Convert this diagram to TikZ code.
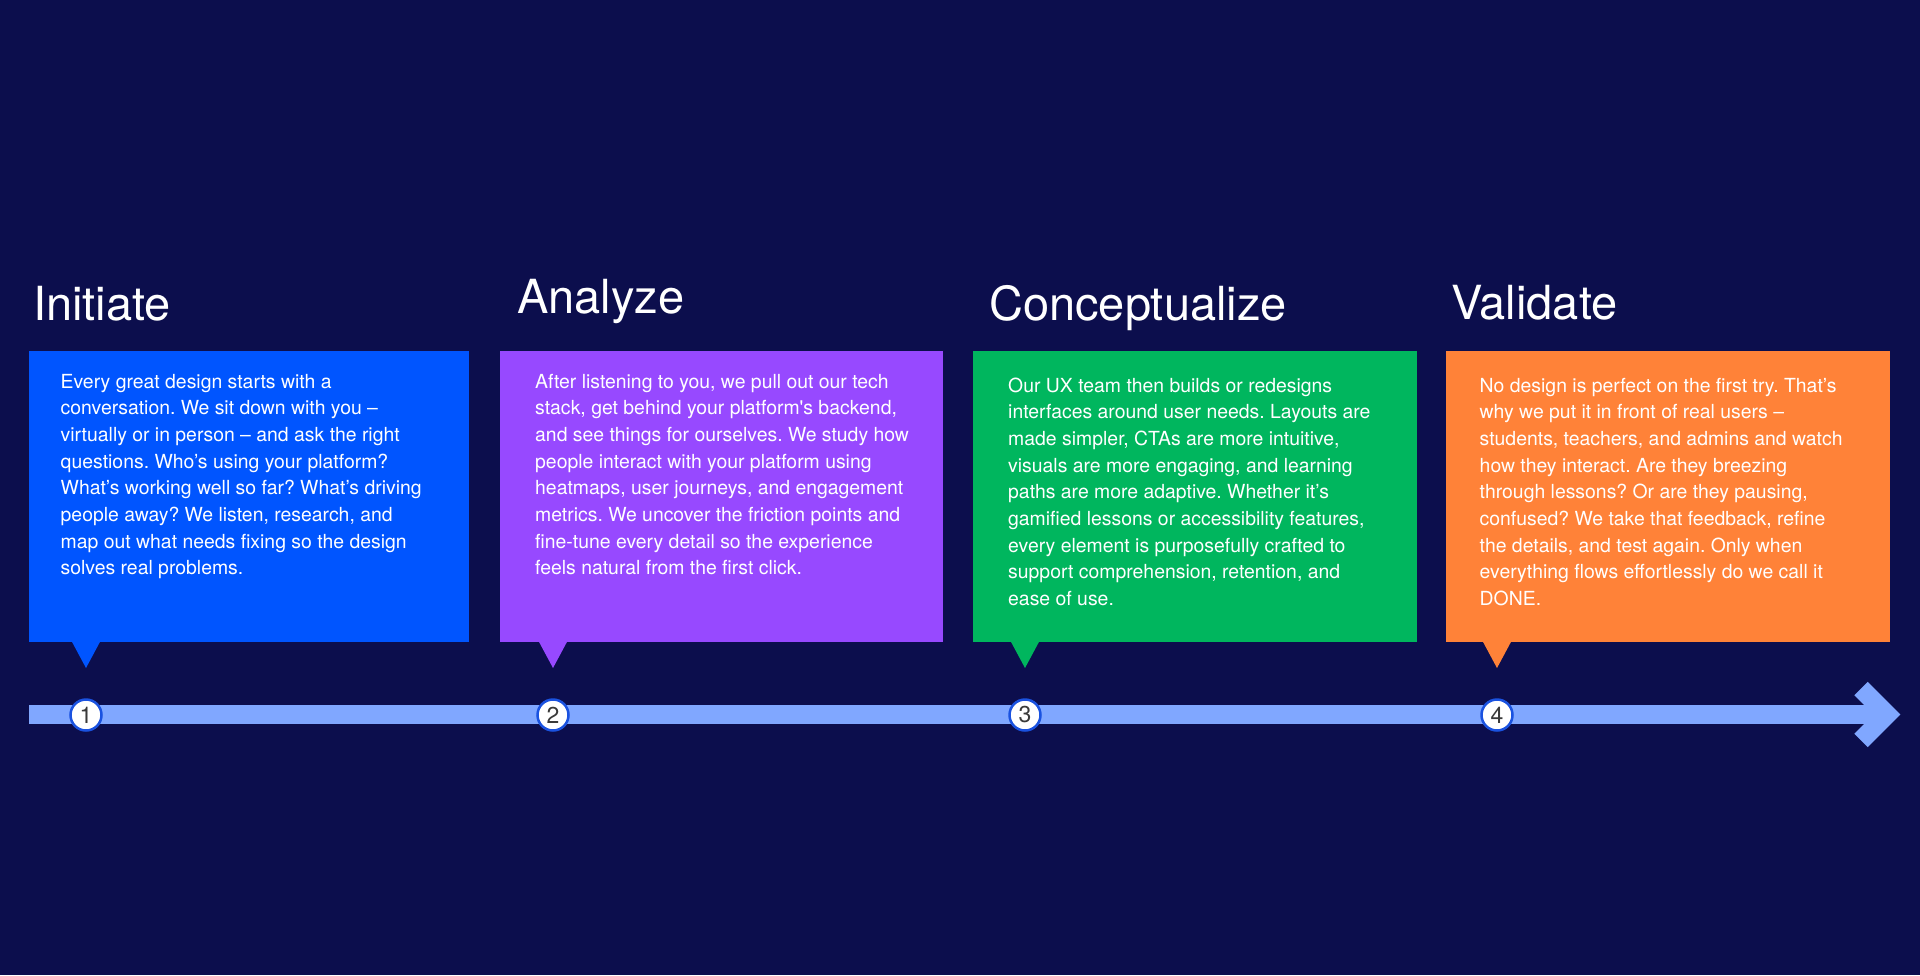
\documentclass[tikz,border=0pt]{standalone}
\usepackage{fontspec}
\newfontfamily\hfont{TeX Gyre Heros}
\definecolor{bgnavy}{HTML}{0C0E4D}
\definecolor{cblue}{HTML}{0055FF}
\definecolor{cpurple}{HTML}{9749FF}
\definecolor{cgreen}{HTML}{00B65E}
\definecolor{corange}{HTML}{FF8238}
\definecolor{cbar}{HTML}{80A7FF}
\definecolor{cring}{HTML}{1A52E0}
\definecolor{cdigit}{HTML}{3A3A3A}
\begin{document}
\frenchspacing
\begin{tikzpicture}[x=1pt,y=-1pt,
  card/.style={anchor=north west, inner sep=0, outer sep=0, minimum width=#1, minimum height=291},
  ttl/.style={anchor=base west, inner sep=0, text=white, font=\hfont\fontsize{47}{47}\selectfont},
  body/.style={anchor=base west, inner sep=0, text=white},
  num/.style={circle, minimum size=31, inner sep=0, fill=white, draw=cring, line width=2.5,
              text=cdigit, font=\hfont\fontsize{23}{23}\selectfont},
  bar/.style={cbar, line width=19}
]
\newcommand{\bodytext}[1]{\parbox[t]{420pt}{\raggedright\frenchspacing\hfont\fontsize{19.4}{26.7}\selectfont #1}}
\useasboundingbox (0,0) rectangle (1920,975);
\fill[bgnavy] (0,0) rectangle (1920,975);

% titles
\node[ttl] (ttl1) at (33,320) {Initiate};
\node[ttl] (ttl2) at (517,313) {Analyze};
\node[ttl] (ttl3) at (989,320) {Conceptualize};
\node[ttl] (ttl4) at (1451,319) {Validate};

% cards
\node[card=440, fill=cblue] (card1) at (29,351) {};
\node[card=443, fill=cpurple] (card2) at (500,351) {};
\node[card=444, fill=cgreen] (card3) at (973,351) {};
\node[card=444, fill=corange] (card4) at (1446,351) {};

% pointers
\fill[cblue]   (71,640) -- (101,640) -- (86,668) -- cycle;
\fill[cpurple] (538,640) -- (568,640) -- (553,668) -- cycle;
\fill[cgreen]  (1010,640) -- (1040,640) -- (1025,668) -- cycle;
\fill[corange] (1482,640) -- (1512,640) -- (1497,668) -- cycle;

% body texts
\node[body] (txt1) at (60.5,388) {\bodytext{Every great design starts with a\\
conversation. We sit down with you –\\
virtually or in person – and ask the right\\
questions. Who’s using your platform?\\
What’s working well so far? What’s driving\\
people away? We listen, research, and\\
map out what needs fixing so the design\\
solves real problems.}};

\node[body] (txt2) at (535,388) {\bodytext{After listening to you, we pull out our tech\\
stack, get behind your platform's backend,\\
and see things for ourselves. We study how\\
people interact with your platform using\\
heatmaps, user journeys, and engagement\\
metrics. We uncover the friction points and\\
fine-tune every detail so the experience\\
feels natural from the first click.}};

\node[body] (txt3) at (1008,392) {\bodytext{Our UX team then builds or redesigns\\
interfaces around user needs. Layouts are\\
made simpler, CTAs are more intuitive,\\
visuals are more engaging, and learning\\
paths are more adaptive. Whether it’s\\
gamified lessons or accessibility features,\\
every element is purposefully crafted to\\
support comprehension, retention, and\\
ease of use.}};

\node[body] (txt4) at (1479.5,392) {\bodytext{No design is perfect on the first try. That’s\\
why we put it in front of real users –\\
students, teachers, and admins and watch\\
how they interact. Are they breezing\\
through lessons? Or are they pausing,\\
confused? We take that feedback, refine\\
the details, and test again. Only when\\
everything flows effortlessly do we call it\\
DONE.}};

% timeline
\coordinate (tlstart) at (29,714.5);
\coordinate (tlend) at (1887,714.5);
\coordinate (armtop) at (1861,688.5);
\coordinate (armbot) at (1861,740.5);
\draw[bar, line cap=butt] (tlstart) -- (tlend);
\draw[bar, line cap=butt, line join=miter] (armtop) -- (tlend) -- (armbot);

% numbered markers
\node[num] (num1) at (86,715) {1};
\node[num] (num2) at (553,715) {2};
\node[num] (num3) at (1025,715) {3};
\node[num] (num4) at (1497,715) {4};
\end{tikzpicture}
\end{document}
